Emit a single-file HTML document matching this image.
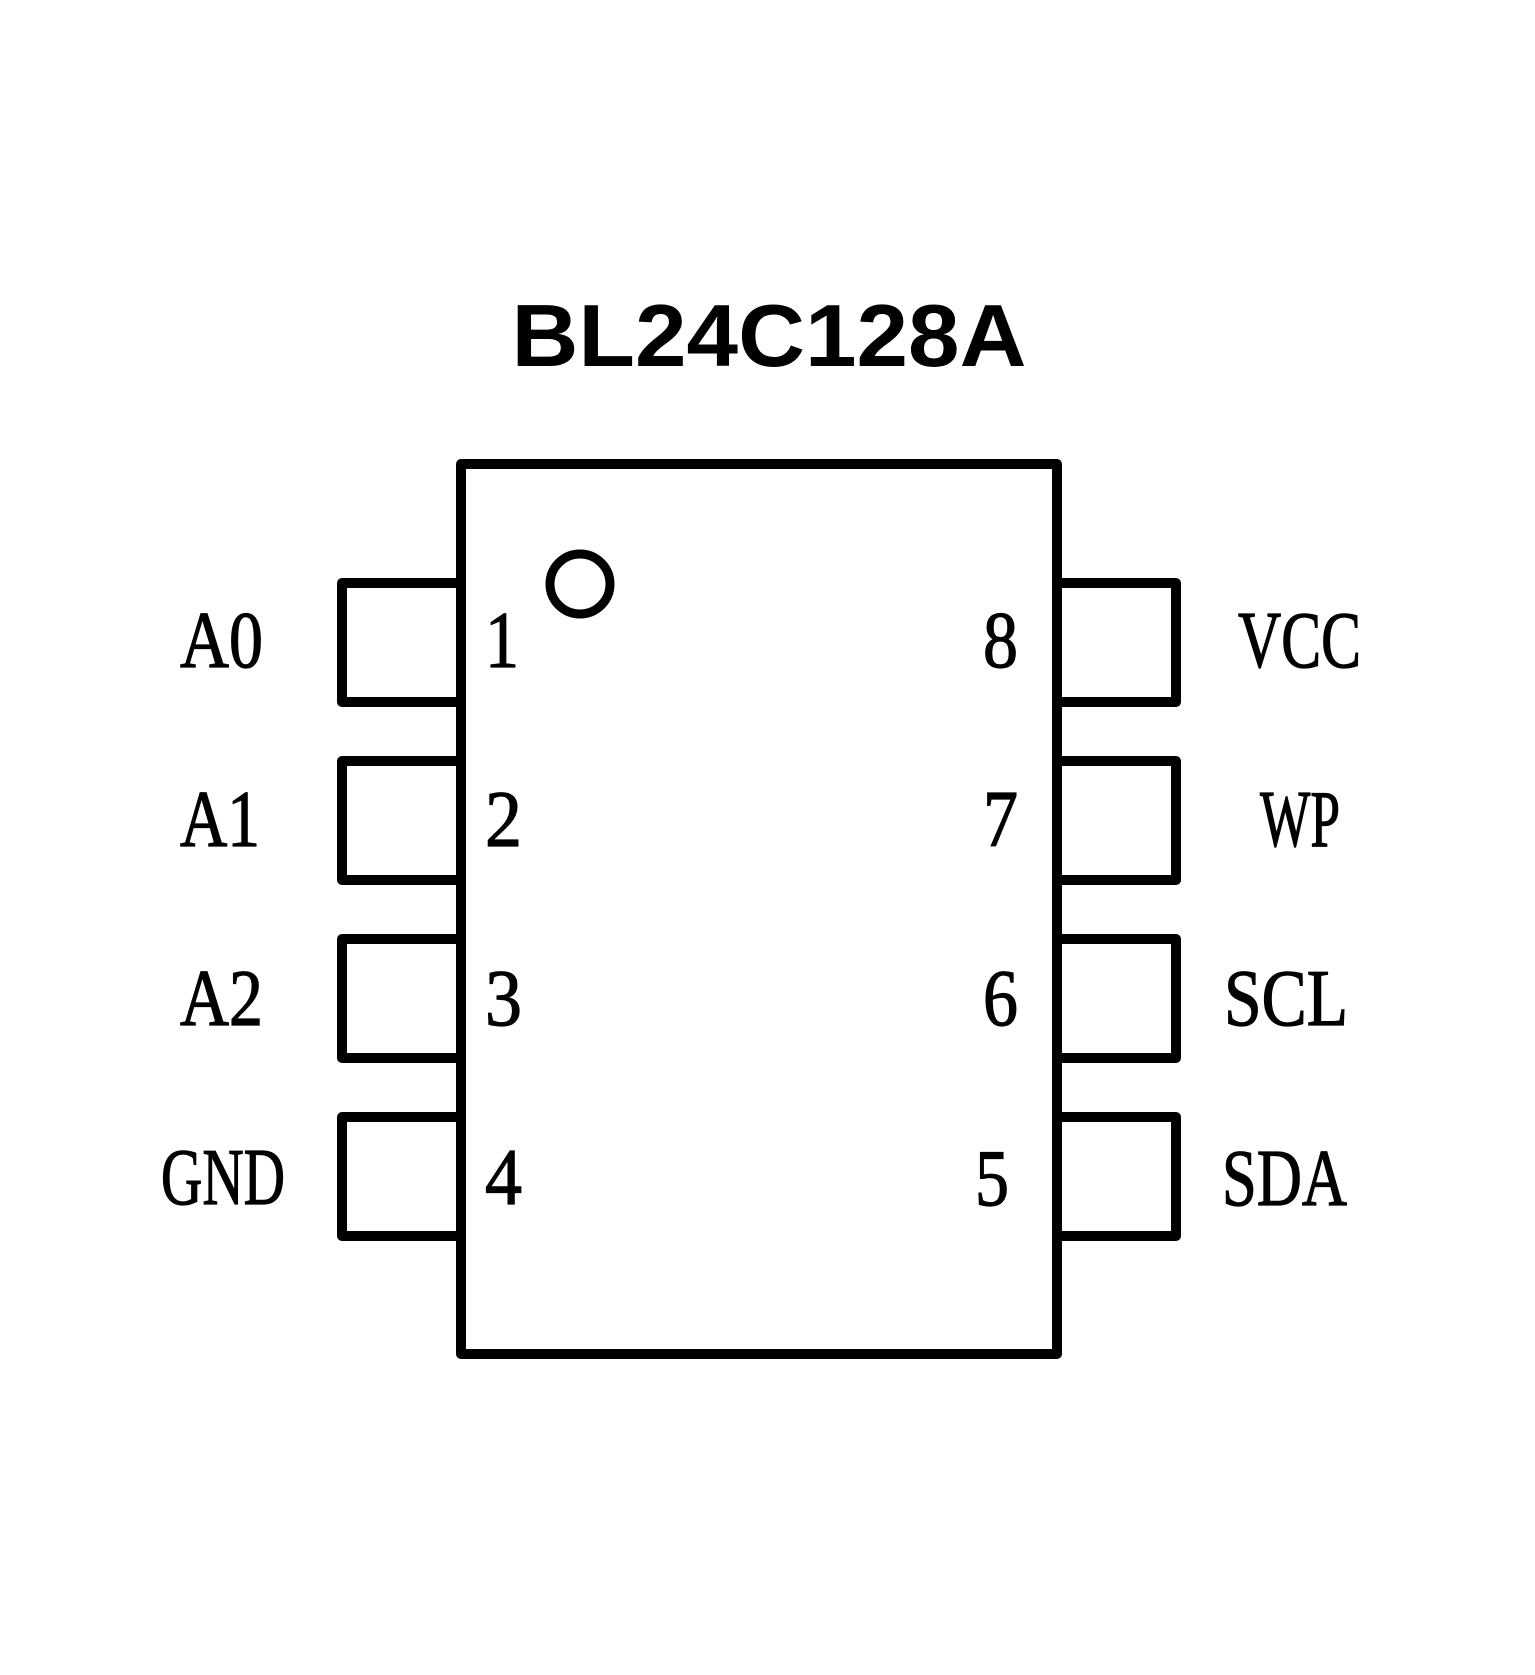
<!DOCTYPE html>
<html><head><meta charset="utf-8"><style>
html,body{margin:0;padding:0;background:#fff;width:1535px;height:1675px;overflow:hidden}
svg{display:block}
.s{font-family:"Liberation Serif","Noto Serif CJK SC",serif;font-size:80px;fill:#000;stroke:#000;stroke-width:1.2}
</style></head><body>
<svg width="1535" height="1675" viewBox="0 0 1535 1675">
<text x="769" y="366" text-anchor="middle" font-family="Liberation Sans, sans-serif" font-weight="bold" font-size="88" textLength="515" lengthAdjust="spacingAndGlyphs">BL24C128A</text>
<g fill="none" stroke="#000" stroke-width="10" stroke-linejoin="round" stroke-linecap="round">
<rect x="461" y="464" width="596" height="890"/>
<circle cx="580" cy="584" r="30" stroke-width="9"/>
<path d="M461 583H342V702H461M461 761H342V880H461M461 939H342V1058H461M461 1117H342V1236H461"/>
<path d="M1057 583H1176V702H1057M1057 761H1176V880H1057M1057 939H1176V1058H1057M1057 1117H1176V1236H1057"/>
</g>
<g class="s">
<text x="180" y="667" textLength="83" lengthAdjust="spacingAndGlyphs">A0</text>
<text x="180" y="846" textLength="80" lengthAdjust="spacingAndGlyphs">A1</text>
<text x="180" y="1025" textLength="83" lengthAdjust="spacingAndGlyphs">A2</text>
<text x="161" y="1204" textLength="124" lengthAdjust="spacingAndGlyphs">GND</text>
<text x="485" y="667" textLength="34" lengthAdjust="spacingAndGlyphs">1</text>
<text x="485" y="846" textLength="37" lengthAdjust="spacingAndGlyphs">2</text>
<text x="485" y="1025" textLength="37" lengthAdjust="spacingAndGlyphs">3</text>
<text x="485" y="1204" textLength="37" lengthAdjust="spacingAndGlyphs">4</text>
<text x="983" y="667" textLength="35" lengthAdjust="spacingAndGlyphs">8</text>
<text x="983" y="846" textLength="35" lengthAdjust="spacingAndGlyphs">7</text>
<text x="983" y="1025" textLength="35" lengthAdjust="spacingAndGlyphs">6</text>
<text x="975" y="1205" textLength="34" lengthAdjust="spacingAndGlyphs">5</text>
<text x="1238" y="667" textLength="123" lengthAdjust="spacingAndGlyphs">VCC</text>
<text x="1260" y="846" textLength="80" lengthAdjust="spacingAndGlyphs">WP</text>
<text x="1224" y="1025" textLength="124" lengthAdjust="spacingAndGlyphs">SCL</text>
<text x="1222" y="1205" textLength="125" lengthAdjust="spacingAndGlyphs">SDA</text>
</g>
</svg>
</body></html>
